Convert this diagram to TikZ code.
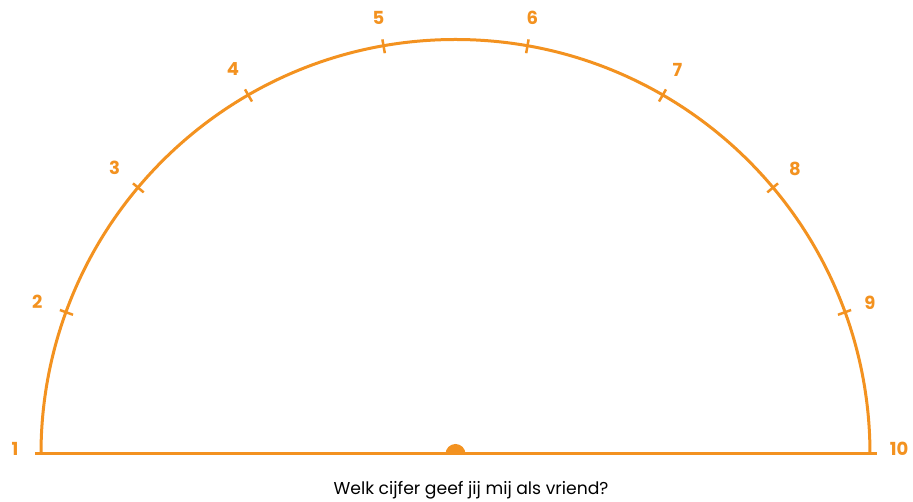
\documentclass[tikz,border=0pt]{standalone}
\usepackage{fontspec}
\setmainfont{Poppins}
\usetikzlibrary{positioning}
\definecolor{oranje}{RGB}{243,146,32}

\begin{document}
\begin{tikzpicture}[x=1pt,y=1pt,
      lijn/.style={draw=oranje,line width=3pt},
      streep/.style={draw=oranje,line width=2.5pt},
      cijfer/.style={text=oranje,font=\bfseries\fontsize{18}{21}\selectfont,inner sep=0pt}]
    \useasboundingbox (-455.5,-48) rectangle (457.5,454);
    % schaal
    \coordinate (m) at (0,0);
    \coordinate (l) at (-420.5,0);
    \coordinate (r) at (421.5,0);
    \draw[lijn] (l) -- (r);
    \draw[lijn] (-414.5,0) arc (180:0:414.5);
    \fill[oranje] (-10,0) arc (180:0:10) -- cycle;
    % streepjes
    \draw[streep] (160:407pt) -- (160:421pt);
    \draw[streep] (140:407pt) -- (140:421pt);
    \draw[streep] (120:407pt) -- (120:421pt);
    \draw[streep] (100:407pt) -- (100:421pt);
    \draw[streep] (80:407pt) -- (80:421pt);
    \draw[streep] (60:407pt) -- (60:421pt);
    \draw[streep] (40:407pt) -- (40:421pt);
    \draw[streep] (20:407pt) -- (20:421pt);
    % cijfers
    \node[cijfer] (c1) at (-440.5,5) {1};
    \node[cijfer] (c2) at (160:445pt) {2};
    \node[cijfer] (c3) at (140:445pt) {3};
    \node[cijfer] (c4) at (120:445pt) {4};
    \node[cijfer] (c5) at (100:443pt) {5};
    \node[cijfer] (c6) at (80:443pt) {6};
    \node[cijfer] (c7) at (60:444pt) {7};
    \node[cijfer] (c8) at (40:443pt) {8};
    \node[cijfer] (c9) at (20:441pt) {9};
    \node[cijfer] (c10) at (443.5,5) {10};
    \node[font=\fontsize{17.2}{20}\selectfont] (vraag) at (15.5,-36) {Welk cijfer geef jij mij als vriend?};
  \end{tikzpicture}
\end{document}
